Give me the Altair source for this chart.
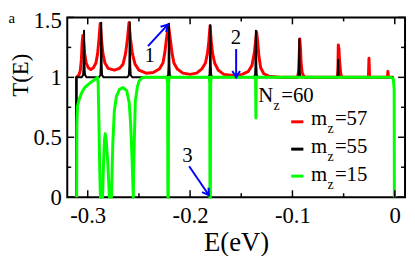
import altair as alt
import pandas as pd

# ---------------- data ----------------
# m_z = 57 (red)
red_E = [-0.3110, -0.3110, -0.3085, -0.3072, -0.3062, -0.3055, -0.3048, -0.3040, -0.3030, -0.3015,
         -0.2995, -0.2970, -0.2945, -0.2920, -0.2903, -0.2890, -0.2878, -0.2866, -0.2852, -0.2832,
         -0.2800, -0.2740, -0.2690, -0.2655, -0.2630, -0.2612, -0.2597, -0.2582, -0.2564, -0.2538,
         -0.2500, -0.2430, -0.2360, -0.2300, -0.2265, -0.2248, -0.2232, -0.2212, -0.2192, -0.2176,
         -0.2158, -0.2125, -0.2070, -0.2000, -0.1935, -0.1885, -0.1850, -0.1830, -0.1817, -0.1805,
         -0.1793, -0.1780, -0.1760, -0.1725, -0.1670, -0.1580, -0.1490, -0.1430, -0.1395, -0.1373,
         -0.1360, -0.1350, -0.1340, -0.1328, -0.1310, -0.1280, -0.1230, -0.1100,
         -0.0950, -0.0940, -0.0933, -0.0928, -0.0922, -0.0915, -0.0905, -0.0890, -0.0870,
         -0.0560, -0.0555, -0.0552, -0.0546, -0.0538, -0.0528, -0.0515,
         -0.0258, -0.0252, -0.0246,
         -0.0072, -0.0067, -0.0062, -0.0010]
red_T = [0.00, 1.00, 1.02, 1.06, 1.15, 1.28, 1.35, 1.30, 1.20, 1.12,
         1.08, 1.065, 1.08, 1.12, 1.20, 1.32, 1.45, 1.32, 1.20, 1.12,
         1.075, 1.06, 1.075, 1.11, 1.20, 1.32, 1.455, 1.32, 1.20, 1.11,
         1.06, 1.035, 1.04, 1.07, 1.12, 1.20, 1.31, 1.44, 1.31, 1.20,
         1.12, 1.07, 1.035, 1.025, 1.035, 1.07, 1.12, 1.20, 1.30, 1.43,
         1.30, 1.20, 1.12, 1.06, 1.025, 1.015, 1.025, 1.05, 1.10, 1.20,
         1.30, 1.38, 1.30, 1.18, 1.08, 1.03, 1.01, 1.00,
         1.00, 1.05, 1.20, 1.32, 1.25, 1.12, 1.04, 1.01, 1.00,
         1.00, 1.10, 1.27, 1.24, 1.12, 1.03, 1.00,
         1.00, 1.16, 1.00,
         1.00, 1.05, 1.00, 1.00]

# m_z = 55 (black)
black_E = [-0.3112, -0.3112, -0.3060, -0.3045, -0.3040, -0.3036, -0.3032, -0.3027, -0.3010,
           -0.2890, -0.2876, -0.2872, -0.2868, -0.2864, -0.2860, -0.2846,
           -0.2612, -0.2598, -0.2593, -0.2589, -0.2585, -0.2580, -0.2566,
           -0.2228, -0.2214, -0.2210, -0.2206, -0.2202, -0.2198, -0.2184,
           -0.1824, -0.1810, -0.1806, -0.1802, -0.1798, -0.1794, -0.1780,
           -0.1378, -0.1365, -0.1361, -0.1357, -0.1353, -0.1349, -0.1336,
           -0.0950, -0.0940, -0.0936, -0.0933, -0.0930, -0.0926, -0.0916,
           -0.0570, -0.0558, -0.0555, -0.0553, -0.0551, -0.0548, -0.0538,
           -0.0020]
black_T = [0.00, 1.00, 1.00, 1.02, 1.10, 1.39, 1.10, 1.02, 1.00,
           1.00, 1.02, 1.10, 1.456, 1.10, 1.02, 1.00,
           1.00, 1.02, 1.10, 1.46, 1.10, 1.02, 1.00,
           1.00, 1.02, 1.10, 1.448, 1.10, 1.02, 1.00,
           1.00, 1.02, 1.10, 1.434, 1.10, 1.02, 1.00,
           1.00, 1.02, 1.10, 1.39, 1.10, 1.02, 1.00,
           1.00, 1.02, 1.08, 1.32, 1.08, 1.02, 1.00,
           1.00, 1.02, 1.06, 1.146, 1.06, 1.02, 1.00,
           1.00]

# m_z = 15 (green)
green_E = [-0.3108, -0.3106, -0.3100, -0.3085, -0.3060, -0.3030, -0.2997, -0.2960, -0.2932, -0.2905,
           -0.2898, -0.2890, -0.2882, -0.2876,
           -0.2855, -0.2845, -0.2836, -0.2829, -0.2820, -0.2805, -0.2788,
           -0.2768, -0.2755, -0.2740, -0.2720, -0.2690, -0.2655, -0.2620, -0.2595, -0.2580, -0.2566,
           -0.2555, -0.2550, -0.2535, -0.2515, -0.2498, -0.2470, -0.2450,
           -0.2226, -0.2220, -0.2217, -0.2213, -0.2210, -0.2204,
           -0.1812, -0.1808, -0.1806, -0.1802, -0.1799, -0.1794,
           -0.1360, -0.1357, -0.1354,
           -0.0040, -0.0015, -0.0006, -0.0004]
green_T = [0.00, 0.60, 0.76, 0.81, 0.87, 0.915, 0.94, 0.965, 0.98, 1.00,
           0.95, 0.60, 0.20, 0.00,
           0.00, 0.30, 0.48, 0.53, 0.48, 0.30, 0.00,
           0.00, 0.45, 0.72, 0.84, 0.90, 0.915, 0.89, 0.79, 0.60, 0.30,
           0.00, 0.30, 0.80, 0.92, 0.97, 0.995, 1.00,
           1.00, 0.95, 0.00, 0.00, 0.95, 1.00,
           1.00, 0.95, 0.00, 0.00, 0.95, 1.00,
           1.00, 0.66, 1.00,
           1.00, 0.99, 0.90, 0.00]

series_names = ["m_z=57", "m_z=55", "m_z=15"]
series_colors = ["#ff0000", "#000000", "#00ff00"]

# axis tick values
x_major = [-0.3, -0.2, -0.1, 0.0]
x_minor = [-0.25, -0.15, -0.05]
y_major = [0.0, 0.5, 1.0, 1.5]
y_minor = [0.25, 0.75, 1.25]

# annotations (arrows: tail -> tip, in data units)
arrow_E1 = [-0.2411, -0.1550, -0.2009]
arrow_T1 = [1.261, 1.236, 0.258]
arrow_E2 = [-0.2218, -0.1550, -0.1816]
arrow_T2 = [1.440, 1.000, 0.0165]
arrow_angle = [43, 180, 146]
num_labels = ["1", "2", "3"]
num_E = [-0.2395, -0.1553, -0.2025]
num_T = [1.179, 1.329, 0.346]

# legend
legend_line_E1 = -0.1012
legend_line_E2 = -0.0893
legend_line_T = [0.629, 0.401, 0.1756]
legend_text_T = [0.6017, 0.3684, 0.1343]
legend_sub_T = [0.533, 0.299, 0.066]
legend_values = ["=57", "=55", "=15"]

assert len(red_E) == len(red_T)
assert len(black_E) == len(black_T)
assert len(green_E) == len(green_T)

# ---------------- chart ----------------
W, H = 342, 182
FONT = "Liberation Serif"
xs = alt.Scale(domain=[-0.32, 0.01], nice=False, zero=False)
ys = alt.Scale(domain=[0, 1.5], nice=False, zero=False)

lab = "replace(format(datum.value, '.1~f'), '\u2212', '-')"
x_axis = alt.Axis(values=x_major, ticks=False, domain=False, grid=False,
                  labelFont=FONT, labelFontSize=23, labelColor="black", labelPadding=8,
                  labelFlush=False, labelExpr=lab,
                  title="E(eV)", titleFont=FONT, titleFontSize=27, titleFontWeight="normal",
                  titleColor="black", titleY=54, titleBaseline="alphabetic")
y_axis = alt.Axis(values=y_major, ticks=False, domain=False, grid=False,
                  labelFont=FONT, labelFontSize=23, labelColor="black", labelPadding=6,
                  labelFlush=False, labelExpr=lab,
                  labelOffset={"condition": {"test": "datum.value == 1.5", "value": 3}, "value": 0},
                  title="T(E)", titleFont=FONT, titleFontSize=23, titleFontWeight="normal",
                  titleColor="black", titleX=-40, titleY=58, titleAngle=-90,
                  titleAlign="center", titleBaseline="alphabetic")

X = alt.X("E:Q", scale=xs, axis=x_axis)
Y = alt.Y("T:Q", scale=ys, axis=y_axis)


def curve(E, T, color, width):
    df = pd.DataFrame({"E": E, "T": T, "i": list(range(len(E)))})
    return alt.Chart(df).mark_line(color=color, strokeWidth=width, strokeJoin="round",
                                   clip=False).encode(x=X, y=Y, order="i:Q")


red = curve(red_E, red_T, series_colors[0], 3)
black = curve(black_E, black_T, series_colors[1], 2)
green = curve(green_E, green_T, series_colors[2], 3)


# inward ticks on all four sides
def xticks(vals, length):
    df = pd.DataFrame({"E": vals})
    bot = alt.Chart(df).mark_rule(color="black", strokeWidth=1.5).encode(
        x=X, y=alt.value(H), y2=alt.value(H - length))
    top = alt.Chart(df).mark_rule(color="black", strokeWidth=1.5).encode(
        x=X, y=alt.value(0), y2=alt.value(length))
    return bot + top


def yticks(vals, length):
    df = pd.DataFrame({"T": vals})
    left = alt.Chart(df).mark_rule(color="black", strokeWidth=1.5).encode(
        y=Y, x=alt.value(0), x2=alt.value(length))
    right = alt.Chart(df).mark_rule(color="black", strokeWidth=1.5).encode(
        y=Y, x=alt.value(W), x2=alt.value(W - length))
    return left + right


ticks = xticks(x_major, 7) + xticks(x_minor, 4) + yticks(y_major, 7) + yticks(y_minor, 4)

# arrows
arr = pd.DataFrame({"E": arrow_E1, "T": arrow_T1, "E2": arrow_E2, "T2": arrow_T2})
shafts = alt.Chart(arr).mark_rule(color="#0000ff", strokeWidth=2).encode(
    x=X, y=Y, x2="E2:Q", y2="T2:Q")
heads_df = pd.DataFrame({"E": arrow_E2, "T": arrow_T2, "a": arrow_angle})
heads = alt.Chart(heads_df).mark_point(
    shape="M-0.6,1L0,0L0.6,1", filled=False, color="#0000ff", strokeWidth=2, size=170,
    opacity=1).encode(x=X, y=Y, angle=alt.Angle("a:Q", scale=None))

nums_df = pd.DataFrame({"E": num_E, "T": num_T, "t": num_labels})
nums = alt.Chart(nums_df).mark_text(font=FONT, fontSize=21, color="black",
                                    align="center", baseline="middle").encode(
    x=X, y=Y, text="t:N")

panel = alt.Chart(pd.DataFrame({"E": [-0.3743], "T": [1.4547], "t": ["a"]})).mark_text(
    font=FONT, fontSize=15, color="black", align="center", baseline="alphabetic").encode(
    x=X, y=Y, text="t:N")

# legend
leg_lines_df = pd.DataFrame({"E": [legend_line_E1] * 3, "E2": [legend_line_E2] * 3,
                             "T": legend_line_T, "s": series_names})
leg_lines = alt.Chart(leg_lines_df).mark_rule(strokeWidth=3).encode(
    x=X, x2="E2:Q", y=Y,
    color=alt.Color("s:N", scale=alt.Scale(domain=series_names, range=series_colors),
                    legend=None))

big_txt = pd.DataFrame({
    "E": [-0.1334, -0.1109] + [-0.0819] * 3 + [-0.0585] * 3,
    "T": [0.7937, 0.7937] + legend_text_T + legend_text_T,
    "t": ["N", "=60"] + ["m"] * 3 + legend_values,
})
big = alt.Chart(big_txt).mark_text(font=FONT, fontSize=21, color="black", align="left",
                                   baseline="alphabetic").encode(x=X, y=Y, text="t:N")
sub_txt = pd.DataFrame({
    "E": [-0.1186] + [-0.0658] * 3,
    "T": [0.725] + legend_sub_T,
    "t": ["z"] * 4,
})
sub = alt.Chart(sub_txt).mark_text(font=FONT, fontSize=14, color="black", align="left",
                                   baseline="alphabetic").encode(x=X, y=Y, text="t:N")

chart = alt.layer(
    red, black, green, ticks, shafts, heads, nums, panel, leg_lines, big, sub
).properties(
    width=W, height=H,
    autosize=alt.AutoSizeParams(type="none"),
    padding={"left": 60, "top": 8, "right": 2, "bottom": 58},
).configure_view(stroke="black", strokeWidth=2)

chart.save("out.html", embed_options={"renderer": "svg", "actions": False})
